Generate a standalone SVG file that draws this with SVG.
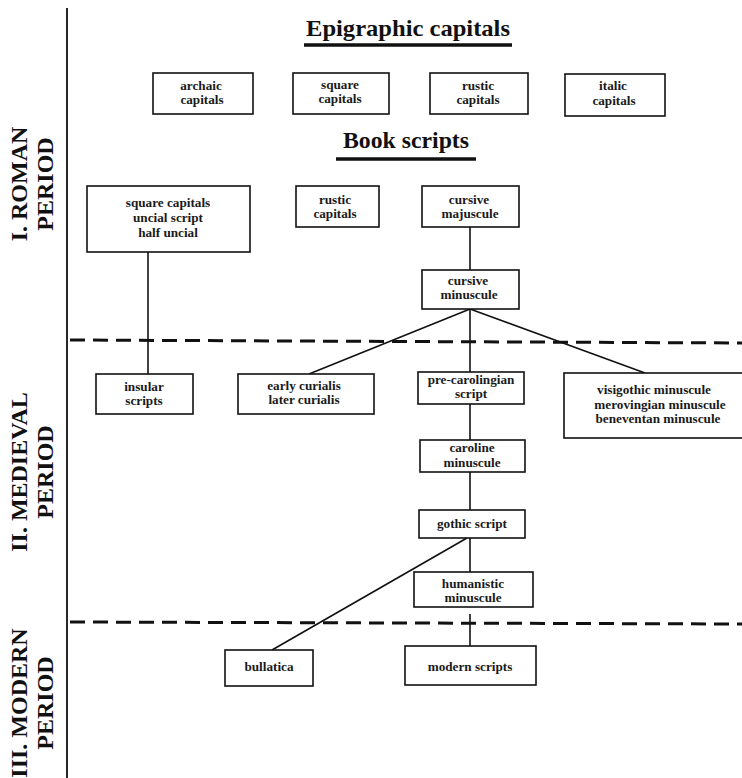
<svg xmlns="http://www.w3.org/2000/svg" width="742" height="778" viewBox="0 0 742 778">
<style>
.box{fill:#fff;stroke:#111;stroke-width:1.6}
.t{font-family:"Liberation Serif","Times New Roman",serif;font-size:13.2px;font-weight:bold;fill:#1a1a1a;text-anchor:middle}
.title{font-family:"Liberation Serif","Times New Roman",serif;font-size:24px;font-weight:bold;fill:#111;text-anchor:middle}
.period{font-family:"Liberation Serif","Times New Roman",serif;font-size:24px;font-weight:bold;fill:#111;text-anchor:middle}
.ln{stroke:#111;stroke-width:1.6;fill:none}
.dash{stroke:#111;stroke-width:3;stroke-dasharray:15 8;fill:none}
.ul{stroke:#111;stroke-width:3.5}
</style>
<rect width="742" height="778" fill="#fff"/>
<g id="axis">
<line x1="67" y1="8" x2="67" y2="778" stroke="#111" stroke-width="1.8"/>
</g>
<g id="period-labels">
<g id="roman-label" transform="translate(0,184) rotate(-90)">
<text class="period" x="0" y="27">I. ROMAN</text>
<text class="period" x="0" y="53">PERIOD</text>
</g>
<g id="medieval-label" transform="translate(0,472) rotate(-90)">
<text class="period" x="0" y="27">II. MEDIEVAL</text>
<text class="period" x="0" y="53">PERIOD</text>
</g>
<g id="modern-label" transform="translate(0,703) rotate(-90)">
<text class="period" x="0" y="27">III. MODERN</text>
<text class="period" x="0" y="53">PERIOD</text>
</g>
</g>
<g id="separators">
<line class="dash" x1="70" y1="340" x2="742" y2="343"/>
<line class="dash" x1="70" y1="622" x2="742" y2="624"/>
</g>
<g id="headings">
<g id="epigraphic-heading">
<text class="title" x="408" y="36" textLength="204" lengthAdjust="spacingAndGlyphs">Epigraphic capitals</text>
<line class="ul" x1="304" y1="45" x2="512" y2="45"/>
</g>
<g id="book-heading">
<text class="title" x="406" y="148" textLength="126" lengthAdjust="spacingAndGlyphs">Book scripts</text>
<line class="ul" x1="336" y1="159" x2="476" y2="159"/>
</g>
</g>
<g id="connectors">
<line class="ln" x1="470" y1="227" x2="470" y2="270"/>
<line class="ln" x1="148" y1="252" x2="148" y2="374"/>
<line class="ln" x1="470" y1="309" x2="309" y2="374"/>
<line class="ln" x1="470" y1="309" x2="470" y2="372"/>
<line class="ln" x1="470" y1="309" x2="645" y2="373"/>
<line class="ln" x1="470" y1="404" x2="470" y2="440"/>
<line class="ln" x1="470" y1="472" x2="470" y2="510"/>
<line class="ln" x1="470" y1="538" x2="470" y2="572"/>
<line class="ln" x1="467" y1="538" x2="272" y2="650"/>
<line class="ln" x1="470" y1="614" x2="470" y2="646"/>
</g>
<g id="archaic-capitals">
<rect class="box" x="153" y="73" width="100" height="41"/>
<text class="t" x="201" y="90">archaic</text>
<text class="t" x="202" y="104">capitals</text>
</g>
<g id="square-capitals">
<rect class="box" x="293" y="73" width="96" height="41"/>
<text class="t" x="340" y="89">square</text>
<text class="t" x="340" y="103">capitals</text>
</g>
<g id="rustic-capitals">
<rect class="box" x="430" y="73" width="98" height="41"/>
<text class="t" x="478" y="90">rustic</text>
<text class="t" x="478" y="104">capitals</text>
</g>
<g id="italic-capitals">
<rect class="box" x="565" y="74" width="100" height="42"/>
<text class="t" x="613" y="90">italic</text>
<text class="t" x="614" y="105">capitals</text>
</g>
<g id="book-square-uncial">
<rect class="box" x="87" y="186" width="163" height="66"/>
<text class="t" x="168" y="207">square capitals</text>
<text class="t" x="168" y="222">uncial script</text>
<text class="t" x="168" y="237">half uncial</text>
</g>
<g id="book-rustic-capitals">
<rect class="box" x="296" y="186" width="83" height="41"/>
<text class="t" x="335" y="204">rustic</text>
<text class="t" x="335" y="218">capitals</text>
</g>
<g id="cursive-majuscule">
<rect class="box" x="422" y="186" width="97" height="41"/>
<text class="t" x="469" y="204">cursive</text>
<text class="t" x="470" y="218">majuscule</text>
</g>
<g id="cursive-minuscule">
<rect class="box" x="422" y="270" width="97" height="39"/>
<text class="t" x="468" y="285">cursive</text>
<text class="t" x="469" y="299">minuscule</text>
</g>
<g id="insular-scripts">
<rect class="box" x="96" y="374" width="97" height="40"/>
<text class="t" x="144" y="391">insular</text>
<text class="t" x="144" y="405">scripts</text>
</g>
<g id="curialis">
<rect class="box" x="238" y="374" width="136" height="40"/>
<text class="t" x="304" y="390">early curialis</text>
<text class="t" x="304" y="404">later curialis</text>
</g>
<g id="pre-carolingian">
<rect class="box" x="418" y="372" width="106" height="32"/>
<text class="t" x="471" y="384">pre-carolingian</text>
<text class="t" x="471" y="398">script</text>
</g>
<g id="visigothic-group">
<rect class="box" x="564" y="373" width="180" height="65"/>
<text class="t" x="654" y="394">visigothic minuscule</text>
<text class="t" x="660" y="409">merovingian minuscule</text>
<text class="t" x="658" y="423">beneventan minuscule</text>
</g>
<g id="caroline-minuscule">
<rect class="box" x="420" y="440" width="105" height="32"/>
<text class="t" x="472" y="452">caroline</text>
<text class="t" x="472" y="467">minuscule</text>
</g>
<g id="gothic-script">
<rect class="box" x="419" y="510" width="106" height="28"/>
<text class="t" x="472" y="528">gothic script</text>
</g>
<g id="humanistic-minuscule">
<rect class="box" x="414" y="572" width="119" height="35"/>
<text class="t" x="473" y="588">humanistic</text>
<text class="t" x="473" y="602">minuscule</text>
</g>
<g id="bullatica">
<rect class="box" x="225" y="650" width="88" height="36"/>
<text class="t" x="269" y="671">bullatica</text>
</g>
<g id="modern-scripts">
<rect class="box" x="405" y="646" width="131" height="39"/>
<text class="t" x="470" y="671">modern scripts</text>
</g>
</svg>
